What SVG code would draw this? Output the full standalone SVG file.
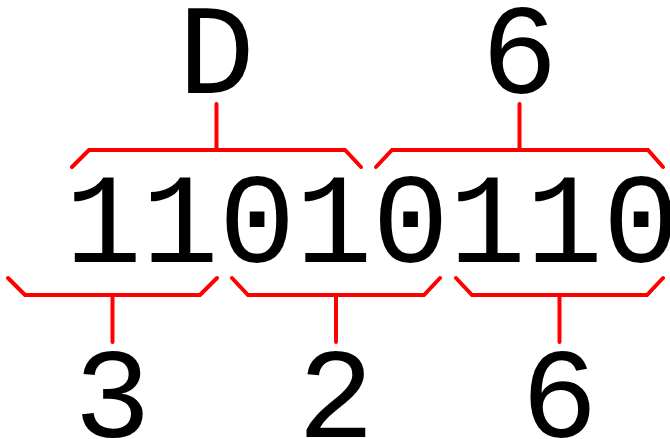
<svg xmlns="http://www.w3.org/2000/svg" width="670" height="439" viewBox="0 0 670 439">
<style>
text{font-family:"Liberation Mono","Courier New",monospace;font-size:128px;fill:#000}
.lab{text-anchor:middle}
.br{fill:none;stroke:#ff0000;stroke-width:4;stroke-linecap:round;stroke-linejoin:miter}
</style>
<rect width="670" height="439" fill="#fff"/>
<g id="bits"><text x="65" y="262">11010110</text></g>
<g id="hexD"><text class="lab" x="216.5" y="93">D</text></g>
<g id="hex6"><text class="lab" x="519.5" y="93">6</text></g>
<g id="oct3"><text class="lab" x="112.5" y="437">3</text></g>
<g id="oct2"><text class="lab" x="336" y="437">2</text></g>
<g id="oct6"><text class="lab" x="559.5" y="437">6</text></g>
<g id="connectors">
<path class="br" d="M72 167 L89 150 L345 150 L361 167 M216.5 150 V104"/>
<path class="br" d="M376 167 L392 150 L648 150 L663 167 M519.5 150 V104"/>
<path class="br" d="M8 278 L25 295 L200 295 L217 278 M112.5 295 V342"/>
<path class="br" d="M232 278 L248 295 L424 295 L440 278 M336 295 V342"/>
<path class="br" d="M456 278 L472 295 L647 295 L663 278 M559.5 295 V342"/>
</g>
</svg>
